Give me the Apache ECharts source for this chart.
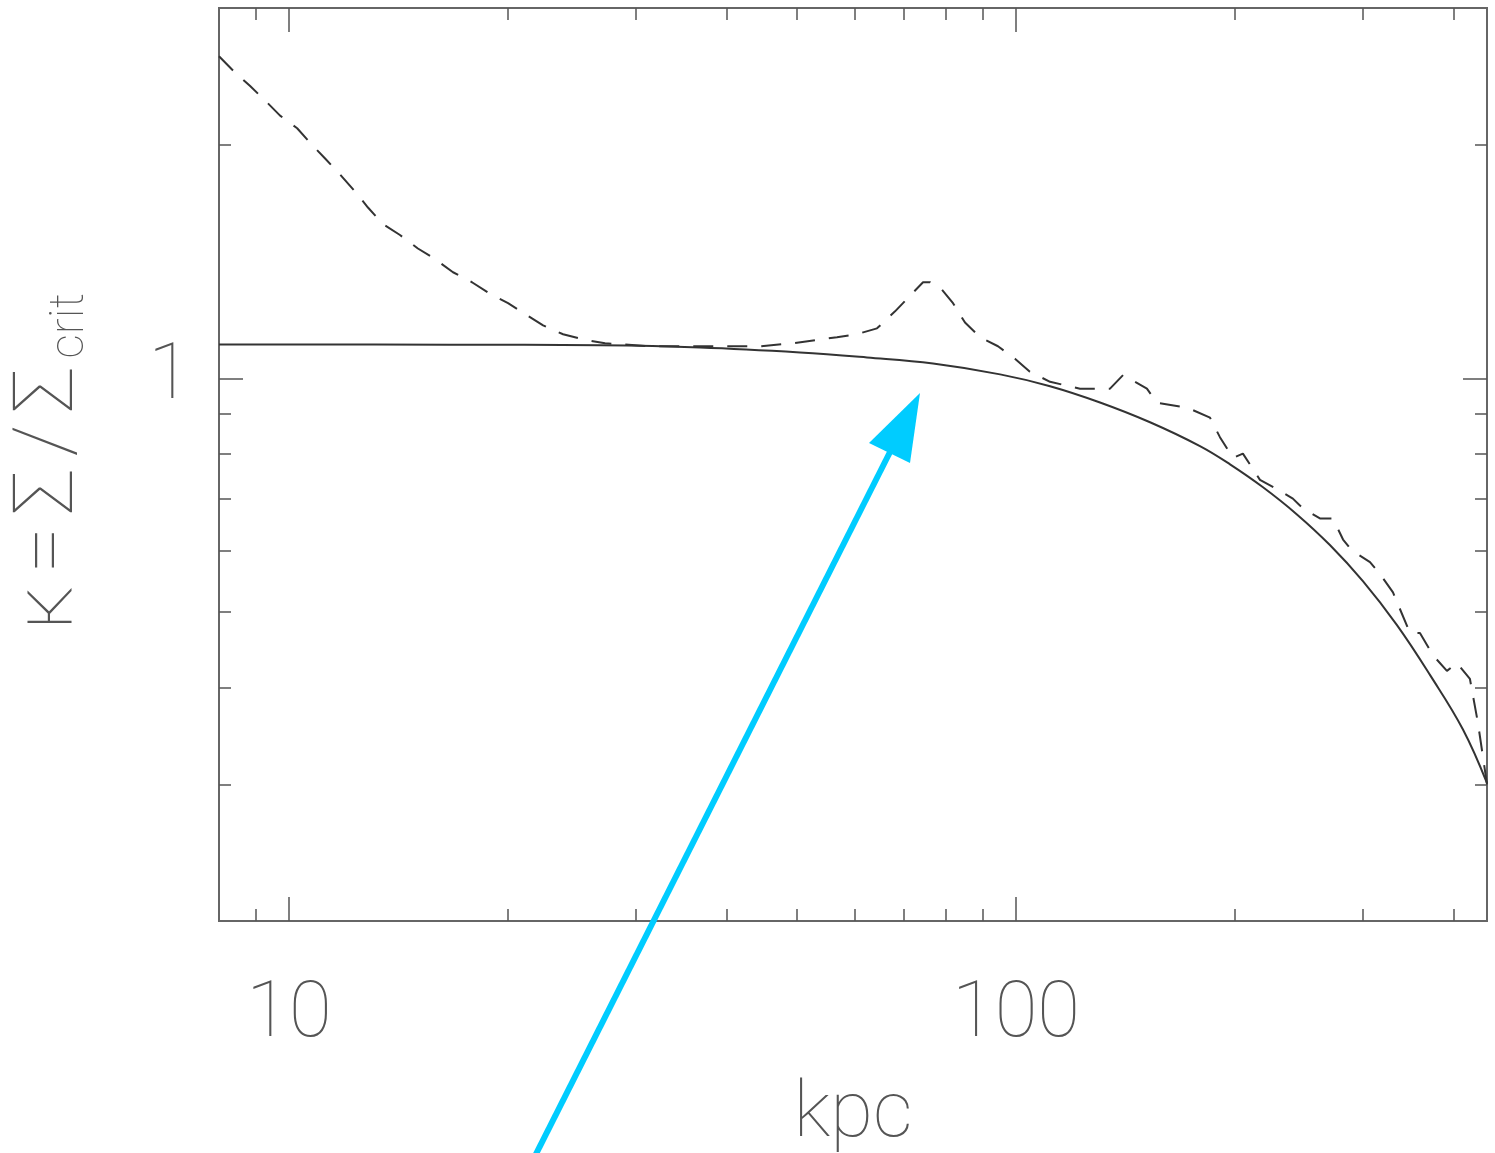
<!DOCTYPE html>
<html>
<head>
<meta charset="utf-8">
<script src="https://cdn.jsdelivr.net/npm/echarts@6/dist/echarts.min.js"></script>
<style>
html, body { margin: 0; padding: 0; background: #fff; }
#main { width: 1495px; height: 1153px; }
</style>
</head>
<body>
<div id="main"></div>
<script>
// radius (kpc) and convergence for the smooth model
var solidR = [8.01, 16.6, 26.78, 36.75, 50.45, 62.37, 76.89, 95.1, 111.4, 130.5, 152.9, 179.1, 197.0, 218.7, 243.5, 270.3, 300.1, 334.3, 371.1, 412.0, 444.6];
var solidK = [1.106, 1.105, 1.103, 1.096, 1.080, 1.064, 1.045, 1.012, 0.977, 0.931, 0.878, 0.818, 0.775, 0.724, 0.668, 0.610, 0.548, 0.481, 0.415, 0.353, 0.301];

// radius (kpc) and convergence for the measured (dashed) profile
var dashR = [8.01, 8.38, 8.84, 9.27, 9.72, 10.26, 10.75, 11.21, 11.76, 12.33, 12.84, 13.47, 14.21, 15.04, 15.78, 16.81, 17.85, 18.78, 20.01, 21.12, 22.36, 23.82, 25.70, 27.21, 31.39, 36.75, 44.45, 49.35, 52.90, 56.72, 60.43, 64.39, 68.18, 71.05, 74.5, 76.17, 78.62, 81.92, 85.09, 89.23, 94.46, 99.68, 104.5, 111.4, 122.5, 134.7, 140.4, 151.4, 156.3, 168.1, 175.2, 184.9, 190.8, 198.8, 205.2, 216.6, 228.6, 240.4, 248.2, 261.9, 272.9, 281.8, 289.9, 306.9, 316.7, 330.1, 348.3, 359.5, 374.6, 391.6, 404.2, 421.2, 432.0, 444.6];
var dashK = [2.60, 2.49, 2.38, 2.28, 2.18, 2.10, 2.00, 1.92, 1.83, 1.74, 1.66, 1.58, 1.53, 1.47, 1.43, 1.37, 1.33, 1.29, 1.25, 1.21, 1.17, 1.14, 1.12, 1.11, 1.10, 1.10, 1.10, 1.11, 1.12, 1.13, 1.14, 1.16, 1.22, 1.27, 1.33, 1.33, 1.31, 1.25, 1.18, 1.13, 1.10, 1.06, 1.02, 0.99, 0.97, 0.97, 1.01, 0.97, 0.93, 0.92, 0.91, 0.89, 0.84, 0.79, 0.80, 0.74, 0.72, 0.70, 0.68, 0.66, 0.66, 0.62, 0.60, 0.58, 0.56, 0.53, 0.47, 0.47, 0.44, 0.42, 0.43, 0.41, 0.36, 0.30];

var xRange = [8.01, 444.6];
var yRange = [0.2, 3];
var xMajor = [10, 100];
var xMinor = [9, 20, 30, 40, 50, 60, 70, 80, 90, 200, 300, 400];
var yMajor = [1];
var yMinor = [0.3, 0.4, 0.5, 0.6, 0.7, 0.8, 0.9, 2];

var lg = function (v) { return Math.log(v) / Math.LN10; };
var pairs = function (xs, ys) {
    var out = [];
    for (var i = 0; i < xs.length; i++) {
        out.push([lg(xs[i]), lg(ys[i])]);
    }
    return out;
};

var fontFam = "Roboto, 'DejaVu Sans', sans-serif";
var inkColor = '#555';

// one axis per tick family and side, all sharing the same log10 range
var makeAxis = function (range, pos, ticks, len, labels) {
    return {
        type: 'value',
        position: pos,
        min: lg(range[0]),
        max: lg(range[1]),
        axisLine: { show: false, onZero: false },
        splitLine: { show: false },
        axisTick: {
            show: true,
            inside: true,
            length: len,
            customValues: ticks.map(lg),
            lineStyle: { color: inkColor, width: 1.5 }
        },
        axisLabel: labels ? {
            show: true,
            customValues: labels.map(lg),
            formatter: function (v) { return String(Math.round(Math.pow(10, v))); },
            fontFamily: fontFam,
            fontWeight: 100,
            fontSize: 78,
            color: inkColor,
            margin: 56
        } : { show: false }
    };
};

var xAxes = [
    makeAxis(xRange, 'bottom', xMajor, 24, xMajor),
    makeAxis(xRange, 'bottom', xMinor, 12, null),
    makeAxis(xRange, 'top', xMajor, 24, null),
    makeAxis(xRange, 'top', xMinor, 12, null)
];
xAxes[0].name = 'kpc';
xAxes[0].nameLocation = 'middle';
xAxes[0].nameGap = 156;
xAxes[0].nameTextStyle = { fontFamily: fontFam, fontWeight: 100, fontSize: 78, color: inkColor };

var yAxes = [
    makeAxis(yRange, 'left', yMajor, 24, yMajor),
    makeAxis(yRange, 'left', yMinor, 12, null),
    makeAxis(yRange, 'right', yMajor, 24, null),
    makeAxis(yRange, 'right', yMinor, 12, null)
];
yAxes[0].axisLabel.margin = 28;
yAxes[0].axisLabel.padding = [18, 0, 0, 0];
yAxes[0].name = '{g|\u03ba}{g|=}{g|\u03a3}{g|/}{g|\u03a3}{sub|crit}';
yAxes[0].nameLocation = 'middle';
yAxes[0].nameRotate = 90;
yAxes[0].nameGap = 124;
yAxes[0].nameTextStyle = {
    fontFamily: fontFam, fontWeight: 100, fontSize: 84, color: inkColor,
    rich: {
        g: { fontFamily: fontFam, fontWeight: 100, fontSize: 84, color: inkColor, padding: [0, 6, 0, 6] },
        sub: { fontFamily: fontFam, fontWeight: 100, fontSize: 48, color: inkColor, padding: [40, 0, 0, 2] }
    }
};

var chart = echarts.init(document.getElementById('main'));
chart.setOption({
    backgroundColor: '#fff',
    animation: false,
    grid: {
        left: 219, top: 8, right: 8, bottom: 232,
        outerBoundsMode: 'none',
        containLabel: false,
        show: true,
        borderColor: '#666',
        borderWidth: 2,
        backgroundColor: 'transparent'
    },
    xAxis: xAxes,
    yAxis: yAxes,
    series: [
        {
            type: 'line',
            name: 'model',
            data: pairs(solidR, solidK),
            smooth: 0.4,
            showSymbol: false,
            lineStyle: { color: '#333', width: 2 }
        },
        {
            type: 'line',
            name: 'profile',
            data: pairs(dashR, dashK),
            showSymbol: false,
            lineStyle: { color: '#333', width: 2, type: [20, 14] }
        }
    ],
    graphic: [
        {
            type: 'line',
            z: 100,
            shape: { x1: 533, y1: 1160, x2: 890, y2: 452 },
            style: { stroke: '#00CCFF', lineWidth: 6 }
        },
        {
            type: 'polygon',
            z: 100,
            shape: { points: [[920, 393], [869, 443], [910, 463]] },
            style: { fill: '#00CCFF' }
        }
    ]
});
</script>
</body>
</html>
